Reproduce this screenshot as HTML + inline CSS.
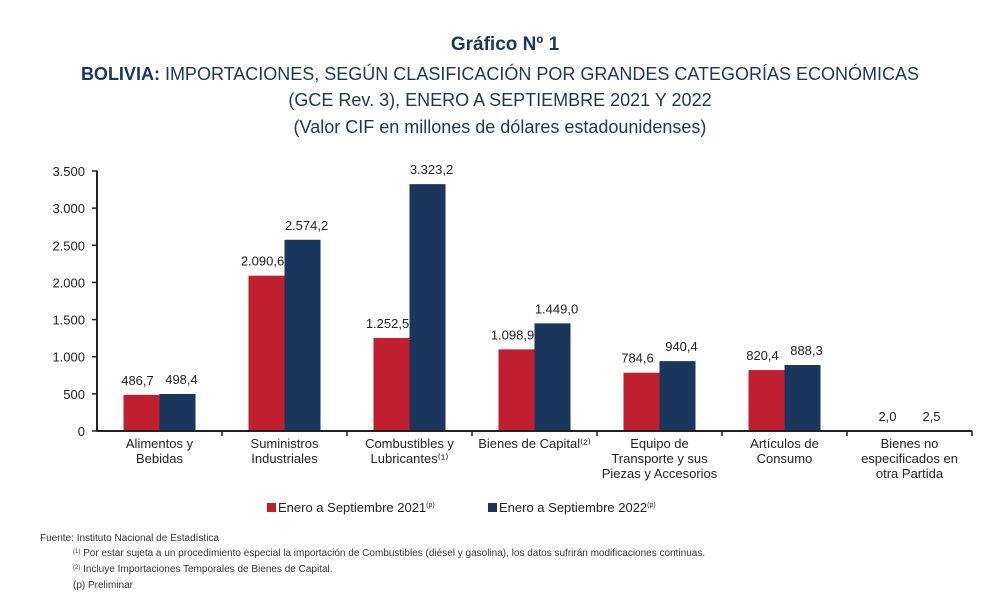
<!DOCTYPE html>
<html><head><meta charset="utf-8"><style>
body{margin:0;background:#fff;width:1000px;height:600px;overflow:hidden;font-family:"Liberation Sans",sans-serif;}
svg{display:block}
</style></head><body>
<svg id="chart" width="1000" height="600">
<text x="505" y="50" text-anchor="middle" font-size="19" font-weight="bold" fill="#1b365d">Gráfico Nº 1</text>
<text x="500" y="80" text-anchor="middle" font-size="18" fill="#1b365d"><tspan font-weight="bold">BOLIVIA:</tspan> IMPORTACIONES, SEGÚN CLASIFICACIÓN POR GRANDES CATEGORÍAS ECONÓMICAS</text>
<text x="500" y="106" text-anchor="middle" font-size="18" fill="#1b365d">(GCE Rev. 3), ENERO A SEPTIEMBRE 2021 Y 2022</text>
<text x="500" y="133" text-anchor="middle" font-size="18" fill="#1b365d">(Valor CIF en millones de dólares estadounidenses)</text>
<g id="plot"></g>
<rect x="267" y="503" width="9" height="9" fill="#c01f2f"/>
<text x="278" y="512" font-size="13" fill="#222">Enero a Septiembre 2021<tspan font-size="7" dy="-5">(p)</tspan></text>
<rect x="488" y="503" width="9" height="9" fill="#1b365d"/>
<text x="499" y="512" font-size="13" fill="#222">Enero a Septiembre 2022<tspan font-size="7" dy="-5">(p)</tspan></text>
<g font-size="10" fill="#333">
<text x="40" y="541">Fuente: Instituto Nacional de Estadística</text>
<text x="73" y="556"><tspan font-size="6" dy="-3">(1)</tspan><tspan dy="3"> Por estar sujeta a un procedimiento especial la importación de Combustibles (diésel y gasolina), los datos sufrirán modificaciones continuas.</tspan></text>
<text x="73" y="572"><tspan font-size="6" dy="-3">(2)</tspan><tspan dy="3"> Incluye Importaciones Temporales de Bienes de Capital.</tspan></text>
<text x="73" y="588">(p) Preliminar</text>
</g>
</svg>
<script>
const categories=[["Alimentos y","Bebidas"],["Suministros","Industriales"],["Combustibles y","Lubricantes⁽¹⁾"],["Bienes de Capital⁽²⁾"],["Equipo de","Transporte y sus","Piezas y Accesorios"],["Artículos de","Consumo"],["Bienes no","especificados en","otra Partida"]];
const series2021=[486.7,2090.6,1252.5,1098.9,784.6,820.4,2.0];
const series2022=[498.4,2574.2,3323.2,1449.0,940.4,888.3,2.5];
const labels2021=["486,7","2.090,6","1.252,5","1.098,9","784,6","820,4","2,0"];
const labels2022=["498,4","2.574,2","3.323,2","1.449,0","940,4","888,3","2,5"];
const yTicks=[0,500,1000,1500,2000,2500,3000,3500];
const yTickLabels=["0","500","1.000","1.500","2.000","2.500","3.000","3.500"];
const NS="http://www.w3.org/2000/svg";
const g=document.getElementById('plot');
const x0=97,bandW=125,y0=431,yMax=3500,plotH=260,barW=36;
const y=v=>y0-v/yMax*plotH;
const xc=i=>x0+bandW*(i+0.5);
function mk(t,a){const e=document.createElementNS(NS,t);for(const k in a)e.setAttribute(k,a[k]);g.appendChild(e);return e;}
let ax=mk('line',{x1:x0,y1:y(yMax),x2:x0,y2:y0,stroke:'#222','stroke-width':2});


yTicks.forEach((v,i)=>{
 const t=mk('line',{x1:x0-5,x2:x0,y1:y(v),y2:y(v),stroke:'#222','stroke-width':1.5});
 
 
 const l=mk('text',{x:x0-12,y:y(v)+5,'text-anchor':'end','font-size':13,fill:'#222'});
 l.textContent=yTickLabels[i];
 
 
});
categories.forEach((c,i)=>{
 const cx=xc(i);
 const r=mk('rect',{x:cx-barW,y:y(series2021[i]),width:barW,height:y0-y(series2021[i]),fill:'#c01f2f'});
 
 
 const b=mk('rect',{x:cx,y:y(series2022[i]),width:barW,height:y0-y(series2022[i]),fill:'#1b365d'});
 
 
 const l1=mk('text',{x:cx-barW/2-4,y:y(series2021[i])-10,'text-anchor':'middle','font-size':13,fill:'#222'});
 l1.textContent=labels2021[i];
 
 
 const l2=mk('text',{x:cx+barW/2+4,y:y(series2022[i])-10,'text-anchor':'middle','font-size':13,fill:'#222'});
 l2.textContent=labels2022[i];
 
 
 const tk=mk('line',{x1:x0+bandW*(i+1),x2:x0+bandW*(i+1),y1:y0,y2:y0+5,stroke:'#222','stroke-width':1.5});
 
 
 c.forEach((s,j)=>{
  const t=mk('text',{x:cx,y:y0+17+j*15,'text-anchor':'middle','font-size':13,fill:'#222'});
  t.textContent=s;
  
  
 });
});
const xa=mk('line',{x1:x0,y1:y0,x2:x0+bandW*categories.length,y2:y0,stroke:'#222','stroke-width':2});


</script>
</body></html>
